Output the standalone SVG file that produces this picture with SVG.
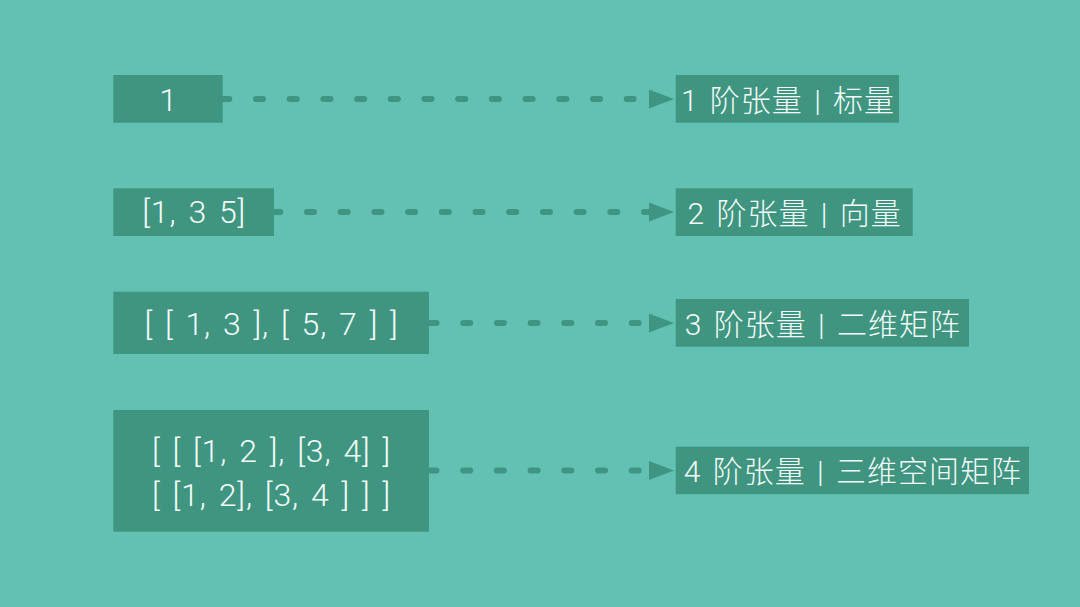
<svg xmlns="http://www.w3.org/2000/svg" width="1080" height="607" viewBox="0 0 1080 607">
  <defs>
    <style>
      .bg { fill: #62c1b3; }
      .box { fill: #3f9580; }
      .conn { stroke: #3f9582; stroke-width: 6; stroke-linecap: round; stroke-dasharray: 7 26.7; fill: none; }
      .lt { font-family: "Roboto", "Liberation Sans", sans-serif; font-weight: 300; font-size: 32px; fill: #f4fbf8; text-anchor: middle; letter-spacing: 0.9px; word-spacing: 3.2px; }
      .rt { font-family: "Roboto", "Noto Sans CJK SC", sans-serif; font-weight: 300; font-size: 30px; fill: #f4fbf8; text-anchor: middle; letter-spacing: 1px; word-spacing: 3px; }
    </style>
    <marker id="arrow" markerUnits="userSpaceOnUse" markerWidth="25" markerHeight="19" viewBox="0 0 25 19" refX="0" refY="9.5" orient="auto">
      <path d="M0,0 L25,9.5 L0,19 Z" fill="#3f9582"/>
    </marker>
  </defs>
  <rect class="bg" x="0" y="0" width="1080" height="607"/>

  <g id="connectors">
    <line class="conn" x1="222.3" y1="99" x2="649" y2="99" marker-end="url(#arrow)"/>
    <line class="conn" x1="273.3" y1="212" x2="649" y2="212" marker-end="url(#arrow)"/>
    <line class="conn" x1="429.5" y1="323" x2="649" y2="323" marker-end="url(#arrow)"/>
    <line class="conn" x1="429.5" y1="470.5" x2="649" y2="470.5" marker-end="url(#arrow)"/>
  </g>

  <g id="n1">
    <rect class="box" x="113.3" y="75" width="109.4" height="47.7"/>
    <text class="lt" x="168.5" y="110.7">1</text>
  </g>
  <g id="n2">
    <rect class="box" x="113.3" y="188.3" width="160.7" height="47.7"/>
    <text class="lt" x="194.2" y="223.3">[1, 3 5]</text>
  </g>
  <g id="n3">
    <rect class="box" x="113.3" y="291.7" width="315.7" height="62.3"/>
    <text class="lt" x="271.6" y="335">[ [ 1, 3 ], [ 5, 7 ] ]</text>
  </g>
  <g id="n4">
    <rect class="box" x="113.3" y="410" width="315.7" height="121.7"/>
    <text class="lt" x="271.6" y="461.5">[ [ [1, 2 ], [3, 4] ]</text>
    <text class="lt" x="271.6" y="506">[ [1, 2], [3, 4 ] ] ]</text>
  </g>

  <g id="r1">
    <rect class="box" x="675.7" y="75" width="223.3" height="47.7"/>
    <text class="rt" x="788" y="110.5">1 阶张量 | 标量</text>
  </g>
  <g id="r2">
    <rect class="box" x="675.7" y="188.3" width="237" height="47.7"/>
    <text class="rt" x="794.7" y="223.5">2 阶张量 | 向量</text>
  </g>
  <g id="r3">
    <rect class="box" x="675.7" y="299" width="293.3" height="47.7"/>
    <text class="rt" x="822.8" y="334.5">3 阶张量 | 二维矩阵</text>
  </g>
  <g id="r4">
    <rect class="box" x="675.7" y="446.7" width="353.3" height="47.5"/>
    <text class="rt" x="852.8" y="482">4 阶张量 | 三维空间矩阵</text>
  </g>
</svg>
